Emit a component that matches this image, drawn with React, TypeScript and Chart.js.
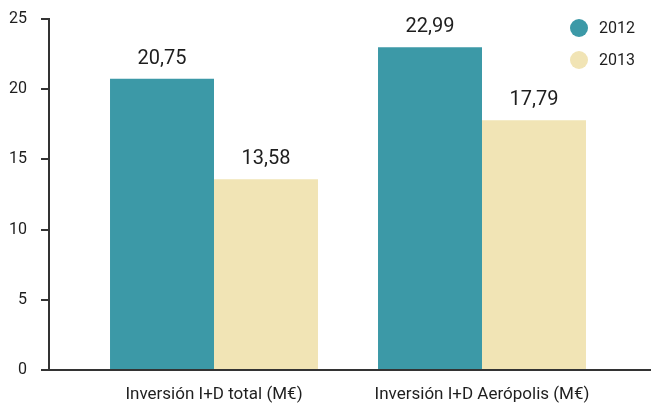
import React, { useEffect, useRef } from 'react';
import { Chart, registerables } from 'chart.js';

Chart.register(...registerables);

const categories = ['Inversión I+D total (M€)', 'Inversión I+D Aerópolis (M€)'];
const seriesLabels = ['2012', '2013'];
const values2012 = [20.75, 22.99];
const values2013 = [13.58, 17.79];
const yTickValues = [0, 5, 10, 15, 20, 25];

const COLOR_2012 = '#3c99a7';
const COLOR_2013 = '#f1e4b5';
const AXIS_COLOR = '#333333';
const TEXT_COLOR = '#1e1e1e';
const FONT = 'Roboto';

const fmt = (v: number) => v.toFixed(2).replace('.', ',');

const dataLabelPlugin = {
  id: 'dataLabels',
  afterDatasetsDraw(chart: any) {
    const ctx = chart.ctx;
    ctx.save();
    ctx.font = `20px ${FONT}`;
    ctx.fillStyle = TEXT_COLOR;
    ctx.textAlign = 'center';
    ctx.textBaseline = 'alphabetic';
    chart.data.datasets.forEach((ds: any, di: number) => {
      const meta = chart.getDatasetMeta(di);
      meta.data.forEach((bar: any, i: number) => {
        const v = ds.data[i].y;
        ctx.fillText(fmt(v), bar.x, bar.y - 15);
      });
    });
    ctx.restore();
  },
};

const legendPlugin = {
  id: 'customLegend',
  afterDraw(chart: any) {
    const ctx = chart.ctx;
    ctx.save();
    ctx.font = `16px ${FONT}`;
    ctx.textAlign = 'left';
    ctx.textBaseline = 'middle';
    chart.data.datasets.forEach((ds: any, i: number) => {
      const cx = 579;
      const cy = 28 + i * 32;
      ctx.beginPath();
      ctx.arc(cx, cy, 9, 0, Math.PI * 2);
      ctx.fillStyle = ds.backgroundColor;
      ctx.fill();
      ctx.fillStyle = TEXT_COLOR;
      ctx.fillText(ds.label, 599, cy + 1);
    });
    ctx.restore();
  },
};

export default function App() {
  const ref = useRef<HTMLCanvasElement | null>(null);

  useEffect(() => {
    document.body.style.margin = '0';
    const canvas = ref.current;
    if (!canvas) return;
    const toPoints = (vals: number[]) => vals.map((v, i) => ({ x: i, y: v }));
    const chart = new Chart(canvas, {
      type: 'bar',
      data: {
        datasets: [
          {
            label: seriesLabels[0],
            data: toPoints(values2012),
            backgroundColor: COLOR_2012,
            borderWidth: 0,
            categoryPercentage: 0.776,
            barPercentage: 1,
          },
          {
            label: seriesLabels[1],
            data: toPoints(values2013),
            backgroundColor: COLOR_2013,
            borderWidth: 0,
            categoryPercentage: 0.776,
            barPercentage: 1,
          },
        ] as any,
      },
      options: {
        animation: false,
        responsive: false,
        devicePixelRatio: 1,
        layout: { padding: { top: 19, right: 0, bottom: 0, left: 0 } },
        plugins: {
          legend: { display: false },
          tooltip: { enabled: false },
        },
        scales: {
          x: {
            type: 'linear',
            min: -165 / 268,
            max: 437 / 268,
            offset: false,
            grid: { display: false, offset: false, drawTicks: false },
            border: { display: true, color: AXIS_COLOR, width: 2 },
            afterBuildTicks: (axis: any) => {
              axis.ticks = categories.map((_, i) => ({ value: i }));
            },
            afterFit: (axis: any) => {
              axis.height = 36;
              axis.paddingLeft = 0;
              axis.paddingRight = 0;
            },
            ticks: {
              autoSkip: false,
              maxRotation: 0,
              minRotation: 0,
              padding: 15,
              color: TEXT_COLOR,
              font: { family: FONT, size: 17 },
              callback: (v: any) => categories[Number(v)] ?? '',
            },
          },
          y: {
            min: 0,
            max: 25,
            afterBuildTicks: (axis: any) => {
              axis.ticks = yTickValues.map((v) => ({ value: v }));
            },
            afterFit: (axis: any) => {
              axis.width = 49;
              axis.paddingTop = 0;
              axis.paddingBottom = 0;
            },
            grid: {
              drawOnChartArea: false,
              drawTicks: true,
              tickLength: 8,
              color: AXIS_COLOR,
              lineWidth: 2,
            },
            border: { display: true, color: AXIS_COLOR, width: 2 },
            ticks: {
              padding: 14,
              color: TEXT_COLOR,
              font: { family: FONT, size: 16 },
              callback: (v: any) => String(v),
            },
          },
        },
      } as any,
      plugins: [dataLabelPlugin, legendPlugin],
    });
    return () => chart.destroy();
  }, []);

  return (
    <div style={{ position: 'absolute', left: 0, top: 0, width: 651, height: 406 }}>
      <canvas ref={ref} width={651} height={406} style={{ display: 'block' }} />
    </div>
  );
}
